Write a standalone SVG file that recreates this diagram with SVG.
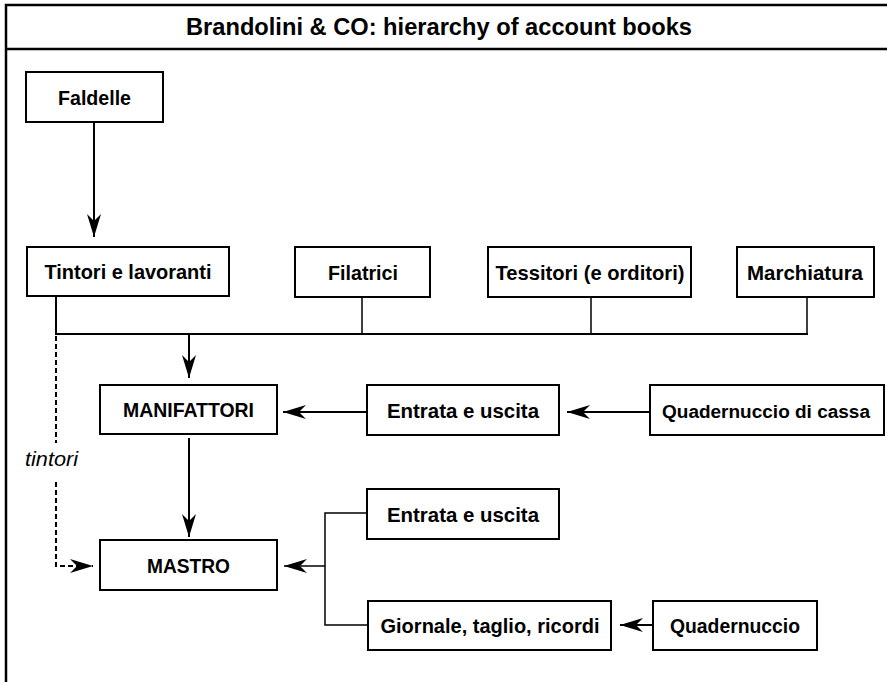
<svg xmlns="http://www.w3.org/2000/svg" width="887" height="682" viewBox="0 0 887 682">
<style>
.box{fill:#fff;stroke:#000;stroke-width:2}
.lbl{font-family:"Liberation Sans",Arial,sans-serif;font-weight:bold;font-size:21px;text-anchor:middle;fill:#000}
.ttl{font-family:"Liberation Sans",Arial,sans-serif;font-weight:bold;font-size:24px;text-anchor:middle;fill:#000}
.it{font-family:"Liberation Sans",Arial,sans-serif;font-style:italic;font-size:20px;fill:#000}
.ln{fill:none;stroke:#000;stroke-width:2}
.thin{fill:none;stroke:#000;stroke-width:1.5}
.dash{fill:none;stroke:#000;stroke-width:2;stroke-dasharray:5 3}
.frame{fill:none;stroke:#000;stroke-width:2.5}
</style>
<defs>
<marker id="ah" markerUnits="userSpaceOnUse" markerWidth="26" markerHeight="18" viewBox="-24 -9 26 18" refX="0" refY="0" orient="auto">
<path d="M0,0 L-23,-7 L-16,0 L-23,7 Z" fill="#000"/>
</marker>
</defs>
<g id="frame">
<path class="frame" d="M6,682 V5 H887 M6,49 H887"/>
<text class="ttl" x="439" y="35" textLength="506" lengthAdjust="spacingAndGlyphs">Brandolini &amp; CO: hierarchy of account books</text>
</g>
<g id="connectors">
<path class="ln" d="M94,122 V237" marker-end="url(#ah)"/>
<path class="ln" d="M56,296 V334 H808"/>
<path class="thin" d="M362,297 V334 M591,297 V334 M807,297 V334"/>
<path class="ln" d="M189,334 V378" marker-end="url(#ah)"/>
<path class="ln" d="M367,412 H283" marker-end="url(#ah)"/>
<path class="ln" d="M650,412 H567" marker-end="url(#ah)"/>
<path class="ln" d="M189,438 V537" marker-end="url(#ah)"/>
<path class="thin" d="M367,513 H325 V625 H368"/>
<path class="thin" d="M325,566 H284" marker-end="url(#ah)"/>
<path class="ln" d="M653,625 H620" marker-end="url(#ah)"/>
<path class="dash" d="M56,336 V443"/>
<path class="dash" d="M56,482 V566 H93" marker-end="url(#ah)"/>
</g>
<text class="it" x="25" y="466" textLength="53" lengthAdjust="spacingAndGlyphs">tintori</text>
<g id="faldelle"><rect class="box" x="26" y="72" width="137" height="50"/><text class="lbl" x="94.5" y="104.5" textLength="73" lengthAdjust="spacingAndGlyphs">Faldelle</text></g>
<g id="tintori"><rect class="box" x="27" y="247" width="202" height="49"/><text class="lbl" x="128" y="279" textLength="167" lengthAdjust="spacingAndGlyphs">Tintori e lavoranti</text></g>
<g id="filatrici"><rect class="box" x="295" y="247" width="135" height="50"/><text class="lbl" x="363" y="279.5" textLength="70" lengthAdjust="spacingAndGlyphs">Filatrici</text></g>
<g id="tessitori"><rect class="box" x="488" y="247" width="203" height="50"/><text class="lbl" x="590" y="279.5" textLength="189" lengthAdjust="spacingAndGlyphs">Tessitori (e orditori)</text></g>
<g id="marchiatura"><rect class="box" x="737" y="247" width="137" height="50"/><text class="lbl" x="805" y="279.5" textLength="116" lengthAdjust="spacingAndGlyphs">Marchiatura</text></g>
<g id="manifattori"><rect class="box" x="100" y="385" width="177" height="49"/><text class="lbl" x="188.5" y="417" textLength="131" lengthAdjust="spacingAndGlyphs">MANIFATTORI</text></g>
<g id="entrata1"><rect class="box" x="367" y="385" width="192" height="50"/><text class="lbl" x="463" y="417.5" textLength="152" lengthAdjust="spacingAndGlyphs">Entrata e uscita</text></g>
<g id="quadcassa"><rect class="box" x="650" y="385" width="234" height="50"/><text class="lbl" x="766" y="417.5" style="font-size:18px" textLength="208" lengthAdjust="spacingAndGlyphs">Quadernuccio di cassa</text></g>
<g id="mastro"><rect class="box" x="100" y="540" width="177" height="50"/><text class="lbl" x="188.5" y="572.5" textLength="83" lengthAdjust="spacingAndGlyphs">MASTRO</text></g>
<g id="entrata2"><rect class="box" x="367" y="489" width="192" height="50"/><text class="lbl" x="463" y="521.5" textLength="152" lengthAdjust="spacingAndGlyphs">Entrata e uscita</text></g>
<g id="giornale"><rect class="box" x="368" y="601" width="243" height="49"/><text class="lbl" x="490" y="633" textLength="219" lengthAdjust="spacingAndGlyphs">Giornale, taglio, ricordi</text></g>
<g id="quadernuccio"><rect class="box" x="653" y="601" width="164" height="49"/><text class="lbl" x="735" y="633" textLength="130" lengthAdjust="spacingAndGlyphs">Quadernuccio</text></g>
</svg>
